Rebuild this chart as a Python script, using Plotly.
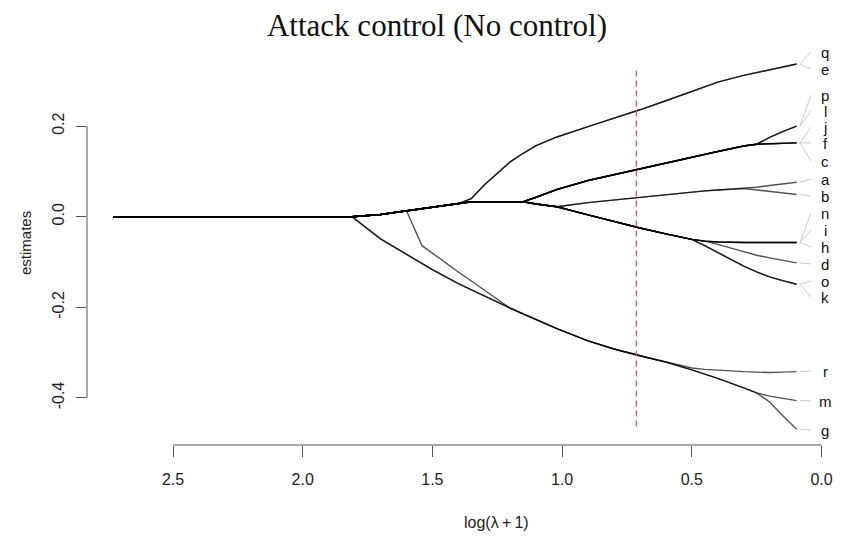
import plotly.graph_objects as go

# ---------------- data ----------------
log_lambda = [2.73, 1.81, 1.70, 1.60, 1.54, 1.50, 1.40, 1.35, 1.30, 1.20, 1.15, 1.10, 1.02,
              0.90, 0.80, 0.70, 0.60, 0.50, 0.45, 0.40, 0.30, 0.25, 0.20, 0.15, 0.096]

est_q = [0, 0, 0.005, 0.013, 0.018, 0.021, 0.029, 0.040, 0.070, 0.121, 0.140, 0.157, 0.176,
         0.199, 0.217, 0.236, 0.256, 0.276, 0.287, 0.297, 0.312, 0.318, 0.325, 0.331, 0.337]
est_e = list(est_q)
est_p = [0, 0, 0.005, 0.013, 0.018, 0.021, 0.029, 0.033, 0.033, 0.033, 0.033, 0.043, 0.060,
         0.080, 0.093, 0.105, 0.118, 0.131, 0.138, 0.144, 0.156, 0.160, 0.175, 0.188, 0.200]
est_l = list(est_p)
est_j = [0, 0, 0.005, 0.013, 0.018, 0.021, 0.029, 0.033, 0.033, 0.033, 0.033, 0.043, 0.060,
         0.080, 0.093, 0.105, 0.118, 0.131, 0.138, 0.144, 0.156, 0.160, 0.161, 0.162, 0.163]
est_f = list(est_j)
est_c = list(est_j)
est_a = [0, 0, 0.005, 0.013, 0.018, 0.021, 0.029, 0.033, 0.033, 0.033, 0.033, 0.028, 0.022,
         0.031, 0.037, 0.043, 0.049, 0.055, 0.057, 0.059, 0.062, 0.065, 0.069, 0.072, 0.076]
est_b = [0, 0, 0.005, 0.013, 0.018, 0.021, 0.029, 0.033, 0.033, 0.033, 0.033, 0.028, 0.022,
         0.031, 0.037, 0.043, 0.049, 0.055, 0.057, 0.059, 0.062, 0.059, 0.056, 0.052, 0.049]
est_n = [0, 0, 0.005, 0.013, 0.018, 0.021, 0.029, 0.033, 0.033, 0.033, 0.033, 0.028, 0.022,
         0.004, -0.011, -0.025, -0.038, -0.050, -0.054, -0.056, -0.057, -0.057, -0.057, -0.057, -0.057]
est_i = list(est_n)
est_h = list(est_n)
est_d = [0, 0, 0.005, 0.013, 0.018, 0.021, 0.029, 0.033, 0.033, 0.033, 0.033, 0.028, 0.022,
         0.004, -0.011, -0.025, -0.038, -0.050, -0.054, -0.061, -0.077, -0.085, -0.091, -0.096, -0.102]
est_o = [0, 0, 0.005, 0.013, 0.018, 0.021, 0.029, 0.033, 0.033, 0.033, 0.033, 0.028, 0.022,
         0.004, -0.011, -0.025, -0.038, -0.050, -0.064, -0.079, -0.109, -0.122, -0.133, -0.141, -0.149]
est_k = list(est_o)
est_r = [0, 0, -0.049, -0.083, -0.103, -0.117, -0.148, -0.162, -0.175, -0.202, -0.215, -0.227, -0.247,
         -0.274, -0.292, -0.307, -0.321, -0.334, -0.337, -0.339, -0.342, -0.343, -0.344, -0.343, -0.342]
est_m = [0, 0, -0.049, -0.083, -0.103, -0.117, -0.148, -0.162, -0.175, -0.202, -0.215, -0.227, -0.247,
         -0.274, -0.292, -0.307, -0.321, -0.338, -0.347, -0.357, -0.378, -0.389, -0.396, -0.401, -0.406]
est_g = [0, 0, 0.005, 0.013, -0.064, -0.081, -0.122, -0.142, -0.162, -0.202, -0.215, -0.227, -0.247,
         -0.274, -0.292, -0.307, -0.321, -0.338, -0.347, -0.357, -0.378, -0.389, -0.409, -0.439, -0.469]

var_names = ["q", "e", "p", "l", "j", "f", "c", "a", "b", "n", "i", "h", "d", "o", "k", "r", "m", "g"]
estimates = [est_q, est_e, est_p, est_l, est_j, est_f, est_c, est_a, est_b, est_n, est_i, est_h,
             est_d, est_o, est_k, est_r, est_m, est_g]

chosen_lambda = 0.714

x_ticks = [2.5, 2.0, 1.5, 1.0, 0.5, 0.0]
y_ticks = [0.2, 0.0, -0.2, -0.4]

# ---------------- layout helpers ----------------
W, H = 841, 539
L, R, T, B = 87, 0, 40, 94
px_per_x, x0_px = 259.4, 821.5
px_per_y, y0_px = 453.0, 216.7
x_left = (x0_px - L) / px_per_x
x_right = (x0_px - (W - R)) / px_per_x
y_bottom = (y0_px - (H - B)) / px_per_y
y_top = (y0_px - T) / px_per_y

# label text positions (pixel rows of the spread labels, top to bottom)
label_rows = [52, 69, 95, 111, 127, 143, 161, 179, 196, 213, 230, 247, 264, 281, 297, 371, 401, 430]
label_y = [(y0_px - r) / px_per_y for r in label_rows]

# ---------------- figure ----------------
fig = go.Figure()

line_col = "rgba(0,0,0,0.68)"
for name, est in zip(var_names, estimates):
    fig.add_trace(go.Scatter(x=log_lambda, y=est, mode="lines",
                             line=dict(color=line_col, width=1.4),
                             hoverinfo="skip", showlegend=False, name=name))

# connectors and labels
conn_x0 = (x0_px - 800) / px_per_x
conn_x1 = (x0_px - 811) / px_per_x
lab_x = (x0_px - 825) / px_per_x
for name, est, ly in zip(var_names, estimates, label_y):
    fig.add_trace(go.Scatter(x=[conn_x0, conn_x1], y=[est[-1], ly], mode="lines",
                             line=dict(color="#cccccc", width=1),
                             hoverinfo="skip", showlegend=False))
    fig.add_annotation(x=lab_x, y=ly, text=name, showarrow=False,
                       xanchor="center", yanchor="middle", borderpad=0,
                       font=dict(family="Liberation Sans, Arial", size=15, color="#111111"))

# red dashed line at the chosen lambda
fig.add_shape(type="line", x0=chosen_lambda, x1=chosen_lambda, y0=0.323, y1=-0.472,
              xref="x", yref="y", line=dict(color="rgb(232,72,72)", width=1.2, dash="6px,4px"))

# axis lines (R-style: only between extreme ticks)
fig.add_shape(type="line", x0=x_ticks[0], x1=x_ticks[-1], y0=0, y1=0, xref="x", yref="paper",
              line=dict(color="#555555", width=1))
fig.add_shape(type="line", x0=0, x1=0, y0=y_ticks[-1], y1=y_ticks[0], xref="paper", yref="y",
              line=dict(color="#555555", width=1))

# axis titles
fig.add_annotation(x=(497 - L) / (W - L - R), y=-(522 - (H - B)) / (H - T - B),
                   xref="paper", yref="paper", text="log(\u03bb\u2009+\u20091)", showarrow=False,
                   xanchor="center", yanchor="middle",
                   font=dict(family="Liberation Sans, Arial", size=16, color="#222222"))
fig.add_annotation(x=-(L - 25) / (W - L - R), y=1 - (243 - T) / (H - T - B),
                   xref="paper", yref="paper", text="estimates", showarrow=False, textangle=-90,
                   xanchor="center", yanchor="middle",
                   font=dict(family="Liberation Sans, Arial", size=15, color="#222222"))

fig.update_layout(
    width=W, height=H,
    margin=dict(l=L, r=R, t=T, b=B),
    paper_bgcolor="white", plot_bgcolor="white",
    title=dict(text="Attack control (No control)", x=437 / W, xanchor="center",
               y=1 - 25 / H, yanchor="middle", yref="container",
               font=dict(family="Liberation Serif, Times New Roman", size=31, color="#111111")),
    xaxis=dict(range=[x_left, x_right], showgrid=False, zeroline=False, showline=False,
               tickvals=x_ticks, ticktext=[f"{v:.1f}" for v in x_ticks],
               ticks="outside", ticklen=11, tickcolor="#555555", tickwidth=1,
               ticklabelstandoff=9,
               tickfont=dict(family="Liberation Sans, Arial", size=16, color="#222222")),
    yaxis=dict(range=[y_bottom, y_top], showgrid=False, zeroline=False, showline=False,
               tickvals=y_ticks, ticktext=[f"{v:.1f}" for v in y_ticks],
               ticks="outside", ticklen=10, tickcolor="#555555", tickwidth=1,
               tickangle=-90, ticklabelstandoff=6,
               tickfont=dict(family="Liberation Sans, Arial", size=16, color="#222222")),
)

fig.write_html("out.html")
